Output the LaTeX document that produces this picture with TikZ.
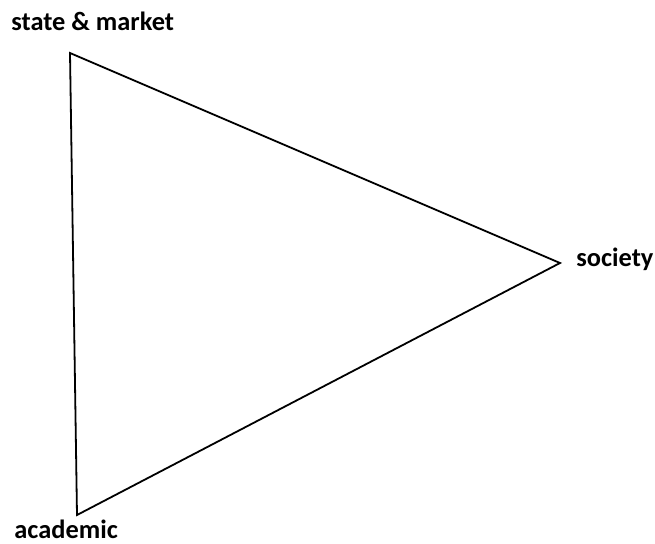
\documentclass[tikz,border=0pt]{standalone}
\usepackage{fontspec}
\setmainfont{Carlito}
\usetikzlibrary{positioning}
\tikzset{
  cornerlbl/.style={font=\fontsize{13.2pt}{15.5pt}\selectfont\bfseries, inner sep=0pt},
  edge/.style={draw=black, line width=0.9pt, line join=miter},
}

\begin{document}
\begin{tikzpicture}[x=0.5pt, y=-0.5pt]
  \useasboundingbox (0,0) rectangle (655,543);
  % corners of the triangle
  \coordinate (state) at (70,53);
  \coordinate (society) at (560,263);
  \coordinate (academic) at (77,515);
  % corner labels
  \node[cornerlbl, anchor=base west] (statelbl) at (11,30) {state \& market};
  \node[cornerlbl, anchor=base west] (societylbl) at (576,266) {society};
  \node[cornerlbl, anchor=base west] (academiclbl) at (14,538) {academic};
  \draw[edge] (state) -- (society) -- (academic) -- cycle;
\end{tikzpicture}
\end{document}
